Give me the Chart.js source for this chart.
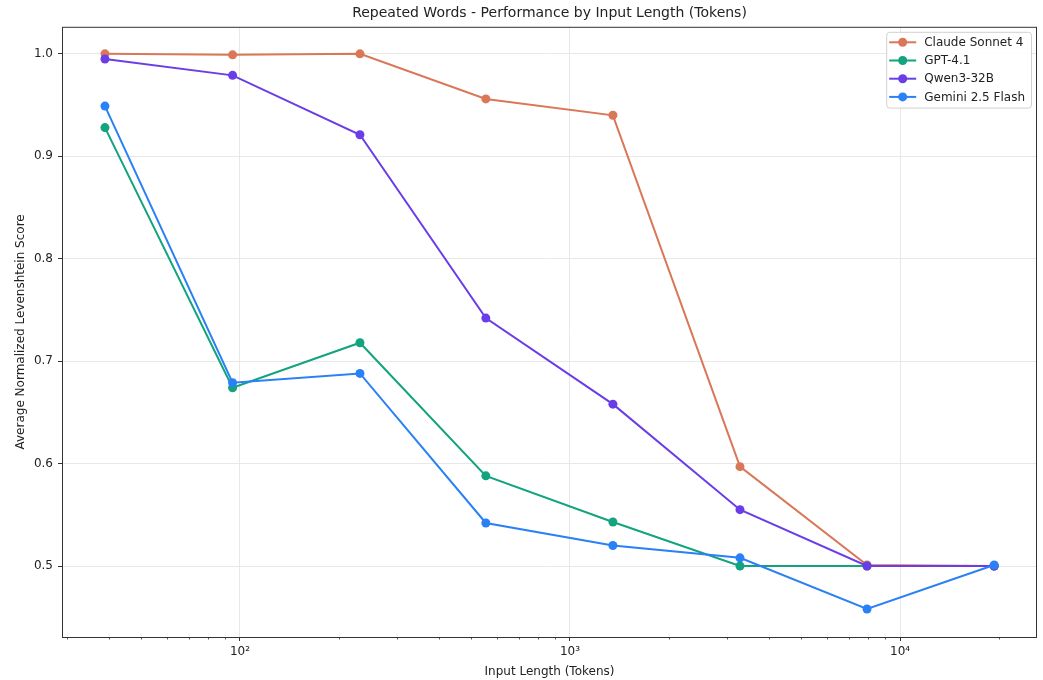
<!DOCTYPE html>
<html>
<head>
<meta charset="utf-8">
<script src="https://cdn.jsdelivr.net/npm/chart.js@4.4.1/dist/chart.umd.min.js"></script>
<style>
  html, body { margin: 0; padding: 0; background: #fff; }
  canvas { display: block; }
</style>
</head>
<body>
<canvas id="c" width="1043" height="680"></canvas>
<script>
// input lengths (tokens) and scores per model
const inputTokens = [39, 95, 231, 556, 1349, 3274, 7943, 19280];

const claudeScores = [1.000, 0.999, 1.000, 0.956, 0.940, 0.597, 0.501, 0.500];
const gptScores    = [0.928, 0.674, 0.718, 0.588, 0.543, 0.500, 0.500, 0.500];
const qwenScores   = [0.995, 0.979, 0.921, 0.742, 0.658, 0.555, 0.500, 0.500];
const geminiScores = [0.949, 0.679, 0.688, 0.542, 0.520, 0.508, 0.458, 0.501];

const modelNames  = ['Claude Sonnet 4', 'GPT-4.1', 'Qwen3-32B', 'Gemini 2.5 Flash'];
const modelColors = ['#d97757', '#12a37f', '#6a3de8', '#2a80f5'];

const xTickValues = [30, 40, 50, 60, 70, 80, 90, 100, 200, 300, 400, 500, 600, 700, 800, 900,
                     1000, 2000, 3000, 4000, 5000, 6000, 7000, 8000, 9000, 10000, 20000];
const yTickValues = [0.5, 0.6, 0.7, 0.8, 0.9, 1.0];
const supers = { 2: '\u00b2', 3: '\u00b3', 4: '\u2074' };

const FONT = "'DejaVu Sans', sans-serif";
const isDecade = v => Math.abs(Math.log10(v) - Math.round(Math.log10(v))) < 1e-9;

function series(scores, i) {
    return {
        label: modelNames[i],
        data: inputTokens.map((x, k) => ({ x: x, y: scores[k] })),
        borderColor: modelColors[i],
        backgroundColor: modelColors[i],
        borderWidth: 2,
        pointRadius: 4.5,
        pointHoverRadius: 4.5,
        pointBorderWidth: 0,
        tension: 0,
        order: 4 - i,
    };
}

// full box round the plot (matplotlib spines) + short minor ticks on the log axis
const frame = {
    id: 'frame',
    afterDatasetsDraw(chart) {
        const a = chart.chartArea, ctx = chart.ctx;
        const xs = chart.scales.x;
        ctx.save();
        ctx.strokeStyle = '#333';
        ctx.lineWidth = 0.8;
        xTickValues.filter(v => !isDecade(v)).forEach(v => {
            const px = Math.round(xs.getPixelForValue(v)) + 0.5;
            ctx.beginPath();
            ctx.moveTo(px, a.bottom);
            ctx.lineTo(px, a.bottom + 2.5);
            ctx.stroke();
        });
        ctx.lineWidth = 1;
        ctx.strokeRect(a.left + 0.5, a.top + 0.5, a.right - a.left - 1, a.bottom - a.top);
        ctx.restore();
    }
};

// legend inside the plot, top right, line + dot markers
const boxLegend = {
    id: 'boxLegend',
    afterDraw(chart) {
        const a = chart.chartArea, ctx = chart.ctx;
        const sets = chart.data.datasets;
        ctx.save();
        ctx.font = '12px ' + FONT;
        let tw = 0;
        sets.forEach(d => { tw = Math.max(tw, ctx.measureText(d.label).width); });
        const w = 38 + tw + 6, rowH = 18.2, h = sets.length * rowH + 3;
        const x0 = a.right - 6 - w, y0 = a.top + 5;
        ctx.beginPath();
        ctx.roundRect(x0 + 0.5, y0 + 0.5, w, h, 3);
        ctx.fillStyle = 'rgba(255,255,255,0.85)';
        ctx.fill();
        ctx.strokeStyle = '#d0d0d0';
        ctx.lineWidth = 1;
        ctx.stroke();
        sets.forEach((d, i) => {
            const cy = y0 + 10.5 + i * rowH;
            ctx.strokeStyle = d.borderColor;
            ctx.lineWidth = 2;
            ctx.beginPath();
            ctx.moveTo(x0 + 3, cy);
            ctx.lineTo(x0 + 30, cy);
            ctx.stroke();
            ctx.fillStyle = d.borderColor;
            ctx.beginPath();
            ctx.arc(x0 + 16.5, cy, 4.5, 0, Math.PI * 2);
            ctx.fill();
            ctx.fillStyle = '#222';
            ctx.textBaseline = 'middle';
            ctx.fillText(d.label, x0 + 38, cy + 0.5);
        });
        ctx.restore();
    }
};

new Chart(document.getElementById('c'), {
    type: 'line',
    data: {
        datasets: [
            series(claudeScores, 0),
            series(gptScores, 1),
            series(qwenScores, 2),
            series(geminiScores, 3),
        ],
    },
    options: {
        responsive: false,
        animation: false,
        layout: { padding: { left: 0, right: 6, top: 0, bottom: 0 } },
        plugins: {
            legend: { display: false },
            tooltip: { enabled: false },
            title: {
                display: true,
                fullSize: false,
                text: 'Repeated Words - Performance by Input Length (Tokens)',
                color: '#222',
                font: { family: FONT, size: 14, weight: 'normal' },
                padding: { top: 5, bottom: 5 },
            },
        },
        scales: {
            x: {
                type: 'logarithmic',
                min: 28.9,
                max: 26000,
                afterBuildTicks: s => { s.ticks = xTickValues.map(v => ({ value: v })); },
                afterFit: s => { s.height = 43; },
                border: { display: false },
                grid: {
                    color: c => (c.tick && isDecade(c.tick.value)) ? '#e8e8e8' : 'rgba(0,0,0,0)',
                    tickColor: c => (c.tick && isDecade(c.tick.value)) ? '#333' : 'rgba(0,0,0,0)',
                    tickLength: 4,
                },
                ticks: {
                    autoSkip: false,
                    maxRotation: 0,
                    padding: 4,
                    color: '#222',
                    font: { family: FONT, size: 12 },
                    callback: v => isDecade(v) ? '10' + supers[Math.round(Math.log10(v))] : '',
                },
                title: {
                    display: true,
                    text: 'Input Length (Tokens)',
                    color: '#222',
                    font: { family: FONT, size: 12 },
                    padding: { top: 0, bottom: 1 },
                },
            },
            y: {
                type: 'linear',
                min: 0.4307,
                max: 1.0264,
                afterBuildTicks: s => { s.ticks = yTickValues.map(v => ({ value: v })); },
                afterFit: s => { s.width = 62; },
                border: { display: false },
                grid: { color: '#e8e8e8', tickColor: '#333', tickLength: 4 },
                ticks: {
                    padding: 5,
                    color: '#222',
                    font: { family: FONT, size: 12 },
                    callback: v => Number(v).toFixed(1),
                },
                title: {
                    display: true,
                    text: 'Average Normalized Levenshtein Score',
                    color: '#222',
                    font: { family: FONT, size: 12 },
                    padding: { top: 14, bottom: 0 },
                },
            },
        },
    },
    plugins: [frame, boxLegend],
});
</script>
</body>
</html>
